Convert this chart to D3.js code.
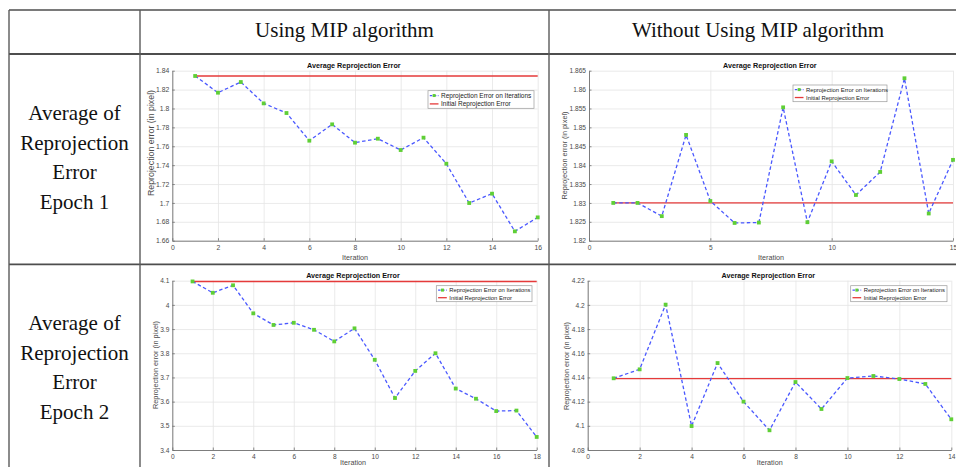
<!DOCTYPE html>
<html>
<head>
<meta charset="utf-8">
<script src="https://cdn.jsdelivr.net/npm/d3@7"></script>
<style>
  body { margin: 0; background: #fff; }
  svg { display: block; }
</style>
</head>
<body>
<div id="figure"></div>
<script>
(function(d3) {
  'use strict';

  // table text
  var colHeaders = ['Using MIP algorithm', 'Without Using MIP algorithm'];
  var rowLabels = [
    ['Average of', 'Reprojection', 'Error', 'Epoch 1'],
    ['Average of', 'Reprojection', 'Error', 'Epoch 2']
  ];

  var chartTitle = 'Average Reprojection Error';
  var xLabel = 'Iteration';
  var yLabel = 'Reprojection error (in pixel)';
  var legendLabels = ['Reprojection Error on Iterations', 'Initial Reprojection Error'];

  // epoch 1, using MIP
  var e1MipIter = [1, 2, 3, 4, 5, 6, 7, 8, 9, 10, 11, 12, 13, 14, 15, 16];
  var e1MipError = [1.8344, 1.8167, 1.8280, 1.8054, 1.7952, 1.7659, 1.7832, 1.7638,
                    1.7680, 1.7560, 1.7691, 1.7415, 1.6999, 1.7098, 1.6699, 1.6847];
  var e1MipInitial = 1.8344;
  var e1MipXTicks = [0, 2, 4, 6, 8, 10, 12, 14, 16];
  var e1MipYTicks = [1.66, 1.68, 1.7, 1.72, 1.74, 1.76, 1.78, 1.8, 1.82, 1.84];

  // epoch 1, without MIP
  var e1NoIter = [1, 2, 3, 4, 5, 6, 7, 8, 9, 10, 11, 12, 13, 14, 15];
  var e1NoError = [1.8300, 1.8300, 1.8265, 1.8480, 1.8305, 1.8247, 1.8248, 1.8553,
                   1.8249, 1.8410, 1.8321, 1.8382, 1.8630, 1.8272, 1.8414];
  var e1NoInitial = 1.8300;
  var e1NoXTicks = [0, 5, 10, 15];
  var e1NoYTicks = [1.82, 1.825, 1.83, 1.835, 1.84, 1.845, 1.85, 1.855, 1.86, 1.865];

  // epoch 2, using MIP
  var e2MipIter = [1, 2, 3, 4, 5, 6, 7, 8, 9, 10, 11, 12, 13, 14, 15, 16, 17, 18];
  var e2MipError = [4.097, 4.050, 4.081, 3.965, 3.917, 3.926, 3.897, 3.849, 3.903,
                    3.773, 3.615, 3.727, 3.800, 3.654, 3.612, 3.561, 3.563, 3.454];
  var e2MipInitial = 4.097;
  var e2MipXTicks = [0, 2, 4, 6, 8, 10, 12, 14, 16, 18];
  var e2MipYTicks = [3.4, 3.5, 3.6, 3.7, 3.8, 3.9, 4, 4.1];

  // epoch 2, without MIP
  var e2NoIter = [1, 2, 3, 4, 5, 6, 7, 8, 9, 10, 11, 12, 13, 14];
  var e2NoError = [4.1393, 4.1467, 4.2002, 4.0998, 4.1519, 4.1200, 4.0963,
                   4.1362, 4.1139, 4.1395, 4.1412, 4.1387, 4.1346, 4.1054];
  var e2NoInitial = 4.139;
  var e2NoXTicks = [0, 2, 4, 6, 8, 10, 12, 14];
  var e2NoYTicks = [4.08, 4.1, 4.12, 4.14, 4.16, 4.18, 4.2, 4.22];

  var W = 956, H = 467;
  var sans = '"Liberation Sans", Arial, sans-serif';
  var serif = '"Liberation Serif", "Times New Roman", serif';

  var panels = [
    { iter: e1MipIter, err: e1MipError, initial: e1MipInitial, xTicks: e1MipXTicks, yTicks: e1MipYTicks,
      x0: 172.3, x1: 537.7, y0: 70.7, y1: 240.7, titleX: 353.8, titleY: 65.7,
      xlabX: 355, xlabY: 257.3, ylabX: 151.3, ylabY: 143, ylabSize: 8.8, tickSize: 6.8,
      legend: { x: 428, y: 90.7, w: 106, h: 17.6, size: 6.5 } },
    { iter: e1NoIter, err: e1NoError, initial: e1NoInitial, xTicks: e1NoXTicks, yTicks: e1NoYTicks,
      x0: 589, x1: 953, y0: 70.7, y1: 240.7, titleX: 769.8, titleY: 65.7,
      xlabX: 771, xlabY: 257.3, ylabX: 564, ylabY: 155.5, ylabSize: 7.3, tickSize: 6.6,
      legend: { x: 793, y: 85, w: 94, h: 16.7, size: 5.9 } },
    { iter: e2MipIter, err: e2MipError, initial: e2MipInitial, xTicks: e2MipXTicks, yTicks: e2MipYTicks,
      x0: 172.3, x1: 536.7, y0: 280.7, y1: 450, titleX: 353, titleY: 275,
      xlabX: 353, xlabY: 462.5, ylabX: 155, ylabY: 365, ylabSize: 7.3, tickSize: 6.6,
      legend: { x: 436.3, y: 285.7, w: 95.7, h: 16, size: 5.85 } },
    { iter: e2NoIter, err: e2NoError, initial: e2NoInitial, xTicks: e2NoXTicks, yTicks: e2NoYTicks,
      x0: 587.7, x1: 951.3, y0: 280.7, y1: 450, titleX: 768.3, titleY: 275,
      xlabX: 769.7, xlabY: 462.5, ylabX: 566, ylabY: 366, ylabSize: 7.3, tickSize: 6.6,
      legend: { x: 850.7, y: 285.7, w: 96.3, h: 16, size: 5.85 } }
  ];

  var svg = d3.select('#figure').append('svg')
    .attr('width', W)
    .attr('height', H);

  svg.append('rect').attr('width', W).attr('height', H).attr('fill', '#fff');

  var tickFmt = function(v) { return String(+v.toFixed(4)); };

  panels.forEach(function(p) {
    var g = svg.append('g');
    var x = d3.scaleLinear().domain(d3.extent(p.xTicks)).range([p.x0, p.x1]);
    var y = d3.scaleLinear().domain(d3.extent(p.yTicks)).range([p.y1, p.y0]);
    var w = p.x1 - p.x0, h = p.y1 - p.y0;

    // grid
    g.append('g')
      .attr('transform', 'translate(0,' + p.y1 + ')')
      .call(d3.axisBottom(x).tickValues(p.xTicks).tickSize(-h).tickFormat(''))
      .call(function(s) {
        s.select('.domain').remove();
        s.selectAll('line').attr('stroke', '#e4e4e4').attr('stroke-width', 0.8);
      });
    g.append('g')
      .attr('transform', 'translate(' + p.x0 + ',0)')
      .call(d3.axisLeft(y).tickValues(p.yTicks).tickSize(-w).tickFormat(''))
      .call(function(s) {
        s.select('.domain').remove();
        s.selectAll('line').attr('stroke', '#e4e4e4').attr('stroke-width', 0.8);
      });

    // axes, ticks pointing inward like matlab
    var styleAxis = function(s) {
      s.select('.domain').attr('stroke', '#707070').attr('stroke-width', 0.9);
      s.selectAll('line').attr('stroke', '#707070').attr('stroke-width', 0.8);
      s.selectAll('text')
        .attr('fill', '#4a4a4a')
        .style('font-family', sans)
        .style('font-size', p.tickSize + 'px');
    };
    g.append('g')
      .attr('transform', 'translate(0,' + p.y1 + ')')
      .call(d3.axisBottom(x).tickValues(p.xTicks).tickSizeInner(-2.5).tickSizeOuter(0)
        .tickPadding(4.5).tickFormat(tickFmt))
      .call(styleAxis);
    g.append('g')
      .attr('transform', 'translate(' + p.x0 + ',0)')
      .call(d3.axisLeft(y).tickValues(p.yTicks).tickSizeInner(-2.5).tickSizeOuter(0)
        .tickPadding(3).tickFormat(tickFmt))
      .call(styleAxis);

    // title + labels
    g.append('text')
      .attr('x', p.titleX).attr('y', p.titleY).attr('dy', '0.35em')
      .attr('text-anchor', 'middle')
      .style('font-family', sans).style('font-size', '7.2px').style('font-weight', 'bold')
      .attr('fill', '#111')
      .text(chartTitle);
    g.append('text')
      .attr('x', p.xlabX).attr('y', p.xlabY).attr('dy', '0.35em')
      .attr('text-anchor', 'middle')
      .style('font-family', sans).style('font-size', '7.2px')
      .attr('fill', '#4a4a4a')
      .text(xLabel);
    g.append('text')
      .attr('transform', 'translate(' + p.ylabX + ',' + p.ylabY + ') rotate(-90)')
      .attr('dy', '0.35em')
      .attr('text-anchor', 'middle')
      .style('font-family', sans).style('font-size', p.ylabSize + 'px')
      .attr('fill', '#4a4a4a')
      .text(yLabel);

    // initial error line
    var first = p.iter[0], last = p.iter[p.iter.length - 1];
    g.append('line')
      .attr('x1', x(first)).attr('x2', x(last))
      .attr('y1', y(p.initial)).attr('y2', y(p.initial))
      .attr('stroke', '#e53a3a').attr('stroke-width', 1.4);

    var pts = p.iter.map(function(it, i) { return [it, p.err[i]]; });
    g.append('path')
      .datum(pts)
      .attr('d', d3.line().x(function(d) { return x(d[0]); }).y(function(d) { return y(d[1]); }))
      .attr('fill', 'none')
      .attr('stroke', '#4a58ff')
      .attr('stroke-width', 1.3)
      .attr('stroke-dasharray', '3.5,2.5');

    g.selectAll('rect.mk').data(pts).enter().append('rect')
      .attr('class', 'mk')
      .attr('x', function(d) { return x(d[0]) - 1.9; })
      .attr('y', function(d) { return y(d[1]) - 1.9; })
      .attr('width', 3.8).attr('height', 3.8)
      .attr('fill', '#5fcf35');

    // legend
    var L = p.legend;
    var lg = g.append('g').attr('transform', 'translate(' + L.x + ',' + L.y + ')');
    lg.append('rect')
      .attr('width', L.w).attr('height', L.h)
      .attr('fill', '#fff').attr('stroke', '#9a9a9a').attr('stroke-width', 0.7);
    var rowH = L.h / 2;
    var sx0 = 1.8, sx1 = 10.5, tx = 13;
    var r1 = rowH * 0.55, r2 = rowH * 1.5;
    lg.append('line')
      .attr('x1', sx0).attr('x2', sx1).attr('y1', r1).attr('y2', r1)
      .attr('stroke', '#4a58ff').attr('stroke-width', 1.2).attr('stroke-dasharray', '2.5,1.5');
    lg.append('rect')
      .attr('x', (sx0 + sx1) / 2 - 1.5).attr('y', r1 - 1.5)
      .attr('width', 3).attr('height', 3).attr('fill', '#5fcf35');
    lg.append('line')
      .attr('x1', sx0).attr('x2', sx1).attr('y1', r2).attr('y2', r2)
      .attr('stroke', '#e53a3a').attr('stroke-width', 1.3);
    lg.selectAll('text').data(legendLabels).enter().append('text')
      .attr('x', tx)
      .attr('y', function(d, i) { return i === 0 ? r1 : r2; })
      .attr('dy', '0.35em')
      .style('font-family', sans).style('font-size', L.size + 'px')
      .attr('fill', '#222')
      .text(function(d) { return d; });
  });

  // table grid
  var tableLeft = 9, tableTop = 10, headerBottom = 54, rowDivider = 264.3;
  var colLines = [tableLeft, 140, 549];
  var rowLines = [tableTop, headerBottom, rowDivider];
  var tg = svg.append('g');
  tg.selectAll('line.row').data(rowLines).enter().append('line')
    .attr('x1', tableLeft).attr('x2', W)
    .attr('y1', function(d) { return d; }).attr('y2', function(d) { return d; })
    .attr('stroke', '#4e4e4e')
    .attr('stroke-width', function(d, i) { return i === 0 ? 1.4 : 1.8; });
  tg.selectAll('line.col').data(colLines).enter().append('line')
    .attr('y1', tableTop).attr('y2', H)
    .attr('x1', function(d) { return d; }).attr('x2', function(d) { return d; })
    .attr('stroke', '#5a5a5a')
    .attr('stroke-width', 1.4);

  // header text
  var headerX = [344.5, 758];
  tg.selectAll('text.hdr').data(colHeaders).enter().append('text')
    .attr('x', function(d, i) { return headerX[i]; })
    .attr('y', 36.5)
    .attr('text-anchor', 'middle')
    .style('font-family', serif).style('font-size', '21px')
    .attr('fill', '#111')
    .text(function(d) { return d; });

  // row labels
  var rowBase = [120, 330];
  rowLabels.forEach(function(lines, r) {
    tg.selectAll(null).data(lines).enter().append('text')
      .attr('x', 74.5)
      .attr('y', function(d, i) { return rowBase[r] + i * 29.5; })
      .attr('text-anchor', 'middle')
      .style('font-family', serif).style('font-size', '21px')
      .attr('fill', '#111')
      .text(function(d) { return d; });
  });
}(d3));
</script>
</body>
</html>
